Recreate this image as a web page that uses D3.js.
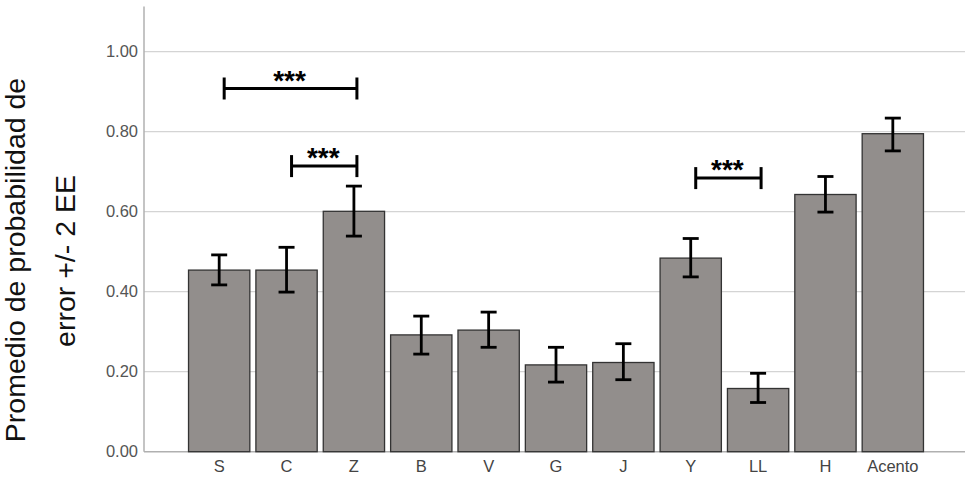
<!DOCTYPE html>
<html><head><meta charset="utf-8">
<script src="https://cdn.jsdelivr.net/npm/d3@7"></script>
<style>html,body{margin:0;padding:0;background:#fff;}svg{display:block;}</style>
</head><body>
<svg id="c" width="970" height="487"></svg>
<script>
const categories = ["S","C","Z","B","V","G","J","Y","LL","H","Acento"];
const means = [0.454,0.454,0.601,0.292,0.304,0.217,0.223,0.484,0.158,0.643,0.795];
const errLow = [0.417,0.399,0.539,0.244,0.261,0.174,0.180,0.437,0.123,0.599,0.752];
const errHigh = [0.492,0.511,0.664,0.339,0.349,0.261,0.270,0.533,0.196,0.688,0.834];
const yTicks = [0,0.2,0.4,0.6,0.8,1.0];
const brackets = [
  {from:"S", to:"Z", y:0.908, label:"***"},
  {from:"C", to:"Z", y:0.714, label:"***"},
  {from:"Y", to:"LL", y:0.684, label:"***"}
];

const svg = d3.select("#c");
const x = d3.scaleBand().domain(categories).range([185.5, 926.5]).paddingInner(0.09).paddingOuter(0.045);
const y = d3.scaleLinear().domain([0, 1.113]).range([451.7, 6.5]);
const axisLeft = 144, axisRight = 965;
const font = "Liberation Sans, Arial, sans-serif";

// gridlines
svg.append("g").selectAll("line").data(yTicks.filter(d=>d>0)).join("line")
  .attr("x1", axisLeft).attr("x2", axisRight)
  .attr("y1", d=>y(d)).attr("y2", d=>y(d))
  .attr("stroke", "#d4d4d4").attr("stroke-width", 1.3);

// y axis
const ya = svg.append("g").attr("transform", `translate(${axisLeft},0)`)
  .call(d3.axisLeft(y).tickValues(yTicks).tickFormat(d3.format(".2f")).tickSize(0).tickPadding(6));
ya.select(".domain").remove();
ya.selectAll("text").attr("font-family",font).attr("font-size",16.5).attr("fill","#555");
svg.append("line").attr("x1",axisLeft).attr("x2",axisLeft).attr("y1",y(1.113)).attr("y2",y(0))
  .attr("stroke","#b0b0b0").attr("stroke-width",1.5);

// x axis
const xa = svg.append("g").attr("transform", `translate(0,${y(0)})`)
  .call(d3.axisBottom(x).tickSize(0).tickPadding(9));
xa.select(".domain").remove();
xa.selectAll("text").attr("font-family",font).attr("font-size",16.5).attr("fill","#444");
svg.append("line").attr("x1",axisLeft).attr("x2",axisRight).attr("y1",y(0)).attr("y2",y(0))
  .attr("stroke","#b0b0b0").attr("stroke-width",1.5);

// bars
svg.append("g").selectAll("rect").data(categories).join("rect")
  .attr("x", d=>x(d)).attr("width", x.bandwidth())
  .attr("y", (d,i)=>y(means[i])).attr("height", (d,i)=>y(0)-y(means[i]))
  .attr("fill","#928e8c").attr("stroke","#333").attr("stroke-width",1.3);

// error bars
const cap = 8;
const eg = svg.append("g").attr("stroke","#000").attr("stroke-width",2.8);
categories.forEach((c,i)=>{
  const cx = x(c) + x.bandwidth()/2;
  eg.append("line").attr("x1",cx).attr("x2",cx).attr("y1",y(errLow[i])).attr("y2",y(errHigh[i]));
  eg.append("line").attr("x1",cx-cap).attr("x2",cx+cap).attr("y1",y(errLow[i])).attr("y2",y(errLow[i]));
  eg.append("line").attr("x1",cx-cap).attr("x2",cx+cap).attr("y1",y(errHigh[i])).attr("y2",y(errHigh[i]));
});

// significance brackets
const bg = svg.append("g");
brackets.forEach(b=>{
  const x1 = x(b.from) + x.bandwidth()/2 + 5;
  const x2 = x(b.to) + x.bandwidth()/2 + 3;
  const yy = y(b.y);
  const g = bg.append("g").attr("stroke","#000").attr("stroke-width",3);
  g.append("line").attr("x1",x1).attr("x2",x2).attr("y1",yy).attr("y2",yy);
  g.append("line").attr("x1",x1).attr("x2",x1).attr("y1",yy-11).attr("y2",yy+11);
  g.append("line").attr("x1",x2).attr("x2",x2).attr("y1",yy-11).attr("y2",yy+11);
  bg.append("text").attr("x",(x1+x2)/2 - 1).attr("y",yy+1).attr("text-anchor","middle")
    .attr("font-family",font).attr("font-size",28).attr("font-weight","bold")
    .attr("fill","#000").text(b.label);
});

// y title
const t = svg.append("g").attr("font-family",font).attr("font-size",28.5).attr("fill","#111");
t.append("text").attr("transform","translate(24.5,260) rotate(-90)").attr("text-anchor","middle").text("Promedio de probabilidad de");
t.append("text").attr("transform","translate(74.5,261) rotate(-90)").attr("text-anchor","middle").text("error +/- 2 EE");
</script>
</body></html>
